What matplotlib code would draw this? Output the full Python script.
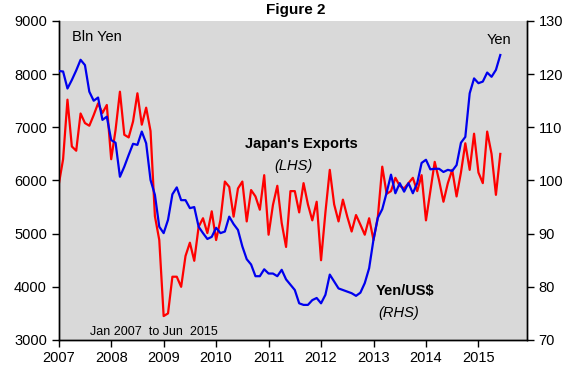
import matplotlib.pyplot as plt
import numpy as np

# Monthly data, Jan 2007 .. Jun 2015
exports = [
    # 2007
    5920, 6400, 7520, 6640, 6560, 7260, 7080, 7030, 7230, 7450, 7270, 7420,
    # 2008
    6400, 6950, 7670, 6860, 6810, 7110, 7640, 7050, 7370, 6930, 5330, 4880,
    # 2009
    3450, 3500, 4190, 4190, 4000, 4580, 4830, 4490, 5130, 5290, 5010, 5420,
    # 2010
    4880, 5260, 5980, 5880, 5320, 5850, 5980, 5230, 5820, 5700, 5450, 6100,
    # 2011
    4980, 5540, 5900, 5200, 4750, 5800, 5800, 5400, 5950, 5550, 5250, 5600,
    # 2012
    4500, 5400, 6200, 5550, 5230, 5640, 5320, 5040, 5350, 5170, 4980, 5290,
    # 2013
    4880, 5320, 6260, 5750, 5800, 6050, 5900, 5850, 5950, 6050, 5800, 6100,
    # 2014
    5250, 5800, 6350, 6000, 5600, 5950, 6200, 5700, 6150, 6700, 6200, 6880,
    # 2015
    6150, 5950, 6920, 6500, 5730, 6500,
]

yen_usd = [
    # 2007
    120.6, 120.5, 117.3, 118.9, 120.7, 122.7, 121.7, 116.7, 115.0, 115.6, 111.4, 112.0,
    # 2008
    107.6, 107.1, 100.7, 102.6, 104.8, 106.9, 106.7, 109.2, 107.0, 100.1, 97.3, 91.3,
    # 2009
    90.1, 92.6, 97.4, 98.7, 96.3, 96.3, 94.8, 95.0, 91.3, 90.1, 89.0, 89.4,
    # 2010
    91.1, 90.1, 90.4, 93.2, 91.8, 90.7, 87.6, 85.2, 84.2, 82.0, 82.0, 83.3,
    # 2011
    82.5, 82.5, 82.0, 83.2, 81.4, 80.4, 79.4, 76.9, 76.6, 76.6, 77.5, 77.9,
    # 2012
    76.9, 78.5, 82.3, 81.0, 79.7, 79.4, 79.1, 78.8, 78.3, 78.9, 80.7, 83.5,
    # 2013
    88.9, 93.0, 94.6, 97.7, 101.1, 97.6, 99.5, 97.9, 99.5, 97.6, 99.5, 103.3,
    # 2014
    103.9, 102.1, 102.2, 102.2, 101.6, 102.0, 101.8, 102.9, 107.1, 108.2, 116.4, 119.2,
    # 2015
    118.3, 118.6, 120.3, 119.5, 120.8, 123.6,
]

years = [2007, 2008, 2009, 2010, 2011, 2012, 2013, 2014, 2015]

t = 2007 + np.arange(len(exports)) / 12.0

plt.rcParams['font.family'] = ['Liberation Sans', 'DejaVu Sans']

fig = plt.figure(figsize=(5.74, 3.85), dpi=100)
ax = fig.add_axes([0.1023, 0.1169, 0.8153, 0.8286])
ax2 = ax.twinx()

ax.set_facecolor('#d9d9d9')
ax.plot(t, exports, color='#ff0000', lw=1.6, zorder=3)
ax2.plot(t, yen_usd, color='#0000ee', lw=1.6, zorder=3)

ax.set_xlim(2007, 2015.92)
ax.set_ylim(3000, 9000)
ax2.set_ylim(70, 130)
ax.set_xticks(years)
ax.set_xticklabels([str(y) for y in years])
ax.set_yticks(range(3000, 9001, 1000))
ax2.set_yticks(range(70, 131, 10))

for a in (ax, ax2):
    a.spines['top'].set_visible(False)
    a.tick_params(labelsize=10.5, length=5, width=1, direction='out')
    for s in a.spines.values():
        s.set_linewidth(1)
ax.tick_params(axis='x', pad=3)

fig.text(0.515, 0.975, 'Figure 2', ha='center', va='center',
         fontsize=11, fontweight='bold')
ax.text(2007.25, 8700, 'Bln Yen', fontsize=10.5, va='center')
ax2.text(2015.62, 126.5, 'Yen', fontsize=10.5, ha='right', va='center')
ax.text(2011.63, 6680, "Japan's Exports", fontsize=10.5, fontweight='bold',
        ha='center', va='center')
ax.text(2011.48, 6280, '(LHS)', fontsize=10.5, style='italic',
        ha='center', va='center')
ax2.text(2013.05, 79.2, 'Yen/US$', fontsize=10.5, fontweight='bold',
         va='center')
ax2.text(2013.1, 75.1, '(RHS)', fontsize=10.5, style='italic', va='center')
ax.text(2007.6, 3150, 'Jan 2007  to Jun  2015', fontsize=9, va='center')

fig.savefig('out.png', dpi=100)
